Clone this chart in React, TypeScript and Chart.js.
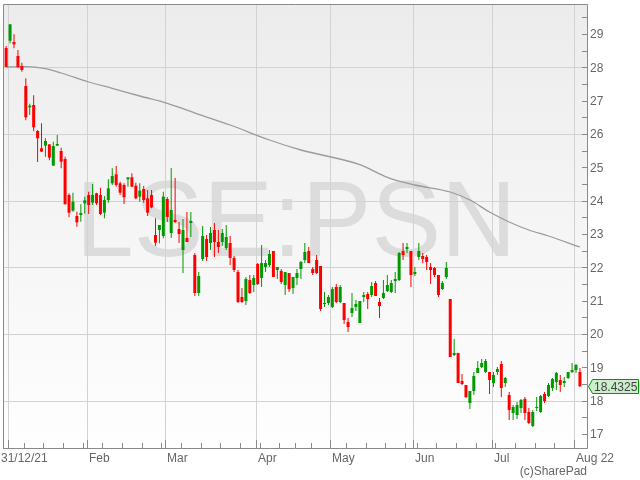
import React, { useEffect, useRef } from 'react';
import { Chart, registerables } from 'chart.js';
Chart.register(...registerables);

// ---- data ----
const symbol = 'LSE:PSN';
const credit = '(c)SharePad';
const firstDate = [2021, 11, 31];
const holidays = ['2022-01-03', '2022-04-15', '2022-04-18', '2022-05-02', '2022-06-02', '2022-06-03'];
const monthLabels = ['31/12/21', 'Feb', 'Mar', 'Apr', 'May', 'Jun', 'Jul', 'Aug 22'];
const yTickValues = [17, 18, 19, 20, 21, 22, 23, 24, 25, 26, 27, 28, 29];

const opens = [28.58,28.80,28.76,28.34,28.04,27.44,26.80,26.87,26.09,25.57,
25.65,25.69,25.05,25.65,25.49,25.25,24.17,23.70,23.54,23.57,
23.92,24.17,23.94,24.22,24.17,23.64,24.02,24.52,24.79,24.52,
24.47,24.64,24.70,24.45,24.12,24.35,24.07,24.17,22.97,23.12,
22.94,24.05,23.03,23.42,23.15,22.52,22.88,23.33,22.37,21.23,
22.25,22.85,22.73,23.12,22.76,22.76,22.58,22.73,22.28,21.86,
21.11,20.99,21.62,21.47,22.10,21.68,22.01,22.07,22.49,21.92,
21.89,21.47,21.83,21.38,21.68,21.95,22.22,22.49,21.95,22.22,
22.04,20.90,20.93,20.81,21.41,20.96,20.93,20.36,20.63,20.81,
20.33,21.11,21.20,21.17,21.53,20.96,21.08,21.29,21.26,21.59,
21.62,22.49,22.55,22.49,21.80,22.31,22.34,22.31,22.01,21.98,
21.77,21.35,21.71,21.05,19.37,19.43,18.59,18.47,17.93,18.29,
18.83,19.01,18.86,18.86,18.53,18.86,19.10,18.53,18.17,17.63,
17.57,17.78,18.05,17.66,17.24,17.78,17.66,18.20,18.14,18.38,
18.56,18.62,18.53,18.68,18.86,18.92,18.86];

const highs = [28.64,29.29,28.99,28.52,28.14,27.67,26.91,27.16,26.12,26.32,
25.87,25.69,25.77,25.97,25.59,25.32,24.22,24.24,23.67,23.89,
24.12,24.27,24.50,24.24,24.39,24.14,24.64,24.97,25.04,24.57,
24.52,24.70,24.82,24.54,24.52,24.44,24.32,24.32,23.47,23.27,
24.27,24.11,24.98,24.68,23.36,23.45,23.66,23.66,22.43,21.86,
23.24,22.97,23.21,23.33,23.12,23.15,23.27,22.94,22.34,21.92,
21.38,21.71,21.77,21.77,22.13,22.67,22.22,22.52,22.49,22.01,
21.95,21.86,21.83,21.71,21.95,22.19,22.73,22.61,22.01,22.37,
22.04,21.26,21.17,21.41,21.50,21.47,20.93,20.48,21.23,21.02,
20.99,21.26,21.26,21.56,21.59,21.08,21.62,21.77,21.62,21.86,
22.46,22.73,22.73,22.49,22.01,22.73,22.43,22.37,22.13,22.01,
21.77,21.59,22.16,21.05,19.85,19.44,18.80,18.47,18.29,18.86,
19.19,19.25,19.25,18.86,18.86,19.01,19.19,18.71,18.26,17.87,
17.96,18.05,18.11,17.78,17.72,18.11,18.17,18.26,18.53,18.68,
18.86,18.77,18.71,18.86,19.13,19.10,18.98];

const lows = [28.01,28.72,28.57,28.00,27.87,26.41,26.57,26.08,25.16,25.47,
25.32,25.21,25.05,25.65,24.97,23.89,23.50,23.67,23.22,23.37,
23.61,23.60,23.87,23.87,23.57,23.47,23.94,24.47,24.42,24.17,
23.90,24.42,24.40,24.04,23.97,23.94,23.54,23.77,22.64,22.72,
22.87,23.36,22.88,23.33,22.73,21.83,22.76,22.91,21.14,21.14,
22.19,22.19,22.52,22.31,22.43,22.64,22.52,22.07,21.86,20.93,
20.93,20.87,21.20,21.26,21.47,21.41,21.86,22.01,21.71,21.65,
21.50,21.17,21.26,21.20,21.47,21.65,22.13,22.13,21.77,21.80,
20.69,20.81,20.87,20.78,20.93,20.93,20.30,20.06,20.51,20.69,
20.33,20.96,20.75,21.11,21.14,20.48,21.05,21.26,21.23,21.23,
21.59,22.22,22.43,21.41,21.74,22.22,22.13,21.92,21.50,21.71,
21.11,21.32,21.65,19.31,19.34,18.53,18.47,18.08,17.75,18.17,
18.83,18.98,18.83,18.20,18.41,18.77,18.11,18.41,17.42,17.42,
17.45,17.63,17.42,17.30,17.21,17.69,17.63,17.93,18.11,18.29,
18.32,18.26,18.41,18.65,18.83,18.83,18.41];

const closes = [28.01,29.29,28.69,28.00,27.92,26.50,26.85,26.20,25.87,25.47,
25.79,25.29,25.64,25.70,25.17,23.89,23.64,23.97,23.35,23.63,
24.01,23.87,24.17,23.92,23.60,24.02,24.37,24.74,24.47,24.24,
24.10,24.70,24.42,24.07,24.30,24.02,23.64,23.80,22.74,23.27,
24.12,23.51,23.72,23.36,23.00,23.12,22.76,23.39,21.23,21.74,
22.94,22.31,23.03,22.76,22.61,23.03,22.91,22.28,21.92,20.96,
20.96,21.65,21.23,21.68,21.50,22.13,22.13,22.40,21.71,22.01,
21.56,21.86,21.35,21.71,21.83,22.16,22.46,22.13,21.83,21.83,
20.75,20.93,21.11,21.35,20.96,21.41,20.42,20.21,20.78,20.90,
20.99,21.17,21.05,21.44,21.14,20.84,21.23,21.47,21.53,21.65,
22.43,22.37,22.61,21.77,21.86,22.49,22.25,22.16,21.92,21.77,
21.17,21.53,21.98,19.31,19.43,18.53,18.50,18.11,18.29,18.74,
18.98,19.13,19.19,18.62,18.77,18.95,18.38,18.68,17.72,17.81,
17.87,18.02,17.63,17.33,17.66,17.81,18.14,17.99,18.47,18.65,
18.83,18.47,18.59,18.86,18.92,19.07,18.4325];

// moving average line, sampled along the candle index
const maIndex = [0, 5, 10, 14, 21, 27, 34, 41, 49, 57, 67, 75, 90, 97, 104, 113, 118, 123, 128, 133, 138, 146];
const maValues = [28.01, 28.02, 27.96, 27.83, 27.56, 27.37, 27.14, 26.92, 26.59, 26.27, 25.82, 25.52, 25.08, 24.70, 24.47, 24.26, 24.02, 23.66, 23.36, 23.12, 22.94, 22.61];

// ---- styles ----
const UP = 'rgb(0,153,0)';
const DOWN = 'rgb(255,0,0)';
const FONT = '"Liberation Sans", Arial, sans-serif';

function tradingDates(n: number): Date[] {
  const out: Date[] = [];
  const d = new Date(Date.UTC(firstDate[0], firstDate[1], firstDate[2]));
  while (out.length < n) {
    const dow = d.getUTCDay();
    const iso = d.toISOString().slice(0, 10);
    if (dow !== 0 && dow !== 6 && !holidays.includes(iso)) out.push(new Date(d.getTime()));
    d.setUTCDate(d.getUTCDate() + 1);
  }
  return out;
}

const dates = tradingDates(closes.length);
const monthStarts: number[] = [];
const weekStarts: number[] = [];
for (let i = 1; i < dates.length; i++) {
  if (dates[i].getUTCMonth() !== dates[i - 1].getUTCMonth()) monthStarts.push(i);
  if (dates[i].getUTCDay() <= dates[i - 1].getUTCDay()) weekStarts.push(i);
}

const colors = closes.map((c, i) => (c >= opens[i] ? UP : DOWN));

const decorPlugin = {
  id: 'decor',
  beforeDraw(chart: any) {
    const { ctx, chartArea: a, scales } = chart;
    const xs = scales.x, ys = scales.y;
    ctx.save();
    ctx.fillStyle = '#ffffff';
    ctx.fillRect(0, 0, chart.width, chart.height);
    const g = ctx.createLinearGradient(0, a.top, 0, a.bottom);
    g.addColorStop(0, '#ececec');
    g.addColorStop(1, '#fefefe');
    ctx.fillStyle = g;
    ctx.fillRect(a.left, a.top, a.right - a.left, a.bottom - a.top);

    // watermark
    ctx.save();
    ctx.beginPath();
    ctx.rect(a.left, a.top, a.right - a.left, a.bottom - a.top);
    ctx.clip();
    ctx.font = `107px ${FONT}`;
    ctx.fillStyle = '#dcdcdc';
    ctx.textAlign = 'center';
    ctx.textBaseline = 'alphabetic';
    ctx.translate((a.left + a.right) / 2 + 1, 256);
    ctx.scale(0.975, 1);
    ctx.fillText(symbol, 0, 0);
    ctx.restore();

    // grid
    ctx.strokeStyle = '#d2d2d2';
    ctx.lineWidth = 1;
    ctx.beginPath();
    yTickValues.filter((v) => v % 2 === 0).forEach((v) => {
      const py = Math.round(ys.getPixelForValue(v)) + 0.5;
      ctx.moveTo(a.left, py);
      ctx.lineTo(a.right, py);
    });
    monthStarts.forEach((m) => {
      const px = Math.round(xs.getPixelForValue(m - 0.5)) + 0.5;
      ctx.moveTo(px, a.top);
      ctx.lineTo(px, a.bottom);
    });
    ctx.stroke();
    ctx.restore();
  },
  afterDraw(chart: any) {
    const { ctx, chartArea: a, scales } = chart;
    const xs = scales.x, ys = scales.y;
    ctx.save();
    ctx.strokeStyle = '#8a8a8a';
    ctx.lineWidth = 1;
    ctx.beginPath();
    // frame
    ctx.moveTo(a.left + 0.5, a.bottom);
    ctx.lineTo(a.left + 0.5, a.top + 0.5);
    ctx.lineTo(a.right + 0.5, a.top + 0.5);
    ctx.lineTo(a.right + 0.5, a.bottom + 0.5);
    ctx.lineTo(a.left, a.bottom + 0.5);
    // y ticks (integers and halves)
    yTickValues.forEach((v) => {
      [v, v + 0.5].forEach((t) => {
        const py = Math.round(ys.getPixelForValue(t)) + 0.5;
        if (py > a.top + 2 && py < a.bottom) {
          ctx.moveTo(a.right - 5, py);
          ctx.lineTo(a.right + 0.5, py);
        }
      });
    });
    // x ticks
    weekStarts.forEach((w) => {
      const px = Math.round(xs.getPixelForValue(w - 0.5)) + 0.5;
      ctx.moveTo(px, a.bottom - 5);
      ctx.lineTo(px, a.bottom);
    });
    monthStarts.forEach((m) => {
      const px = Math.round(xs.getPixelForValue(m - 0.5)) + 0.5;
      ctx.moveTo(px, a.bottom - 8);
      ctx.lineTo(px, a.bottom);
    });
    ctx.stroke();

    // y labels
    ctx.fillStyle = '#666666';
    ctx.font = `12px ${FONT}`;
    ctx.textAlign = 'left';
    ctx.textBaseline = 'middle';
    yTickValues.forEach((v) => {
      ctx.fillText(String(v), a.right + 3, ys.getPixelForValue(v) + 1);
    });

    // x labels
    monthStarts.forEach((m, i) => {
      const px = Math.round(xs.getPixelForValue(m - 0.5));
      ctx.fillText(monthLabels[i], i === 0 ? 1 : px + 2, a.bottom + 11);
    });

    // credit
    ctx.textAlign = 'right';
    ctx.fillText(credit, a.right, a.bottom + 24);

    // last price label
    const last = closes[closes.length - 1];
    const yc = Math.round(ys.getPixelForValue(last)) + 0.5;
    ctx.beginPath();
    ctx.moveTo(a.right + 1.5, yc);
    ctx.lineTo(a.right + 5.5, yc - 7);
    ctx.lineTo(chart.width - 1.5, yc - 7);
    ctx.lineTo(chart.width - 1.5, yc + 7);
    ctx.lineTo(a.right + 5.5, yc + 7);
    ctx.closePath();
    ctx.fillStyle = 'rgb(204,238,204)';
    ctx.fill();
    ctx.strokeStyle = UP;
    ctx.stroke();
    ctx.fillStyle = '#444444';
    ctx.textAlign = 'left';
    ctx.fillText(String(last), a.right + 7, yc + 1);
    ctx.restore();
  },
};

export default function App() {
  const ref = useRef<HTMLCanvasElement>(null);
  useEffect(() => {
    const idx = closes.map((_, i) => i);
    const chart = new Chart(ref.current as HTMLCanvasElement, {
      type: 'bar',
      data: {
        datasets: [
          {
            type: 'bar',
            label: 'body',
            data: idx.map((i) => ({ x: i, y: [opens[i], closes[i]] })) as any,
            backgroundColor: colors,
            borderWidth: 0,
            barThickness: 3,
            minBarLength: 1,
            grouped: false,
            inflateAmount: 0,
            order: 0,
          } as any,
          {
            type: 'bar',
            label: 'wick',
            data: idx.map((i) => ({ x: i, y: [lows[i], highs[i]] })) as any,
            backgroundColor: colors,
            borderWidth: 0,
            barThickness: 1,
            minBarLength: 1,
            grouped: false,
            inflateAmount: 0,
            order: 1,
          } as any,
          {
            type: 'line',
            label: 'MA',
            data: maIndex.map((x, i) => ({ x, y: maValues[i] })),
            borderColor: '#9b9b9b',
            borderWidth: 1.3,
            pointRadius: 0,
            cubicInterpolationMode: 'monotone',
            fill: false,
            order: 2,
          } as any,
        ],
      },
      options: {
        animation: false,
        responsive: true,
        maintainAspectRatio: false,
        devicePixelRatio: 1,
        layout: { padding: { left: 3, top: 4, right: 53, bottom: 32 } },
        plugins: { legend: { display: false }, tooltip: { enabled: false } },
        events: [],
        scales: {
          x: { type: 'linear', display: false, min: -0.8, max: 147.8, offset: false },
          y: { type: 'linear', display: false, min: 16.58, max: 29.9 },
        },
      },
      plugins: [decorPlugin],
    });
    return () => chart.destroy();
  }, []);
  return (
    <div style={{ position: 'fixed', left: 0, top: 0, width: 640, height: 480, background: '#fff' }}>
      <canvas ref={ref} />
    </div>
  );
}
